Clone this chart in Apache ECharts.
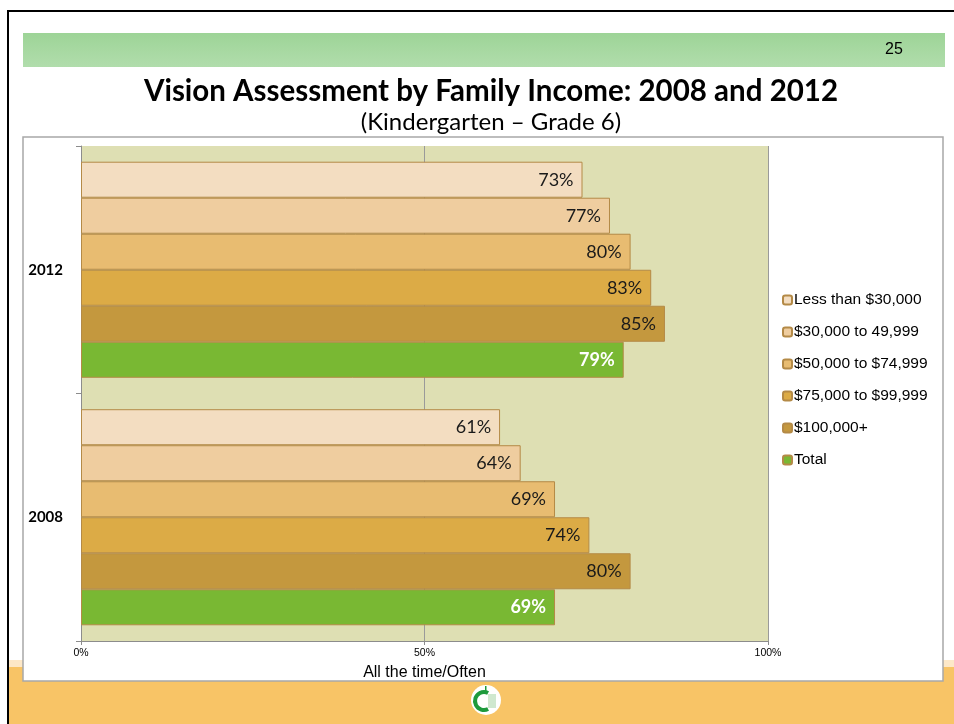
<!DOCTYPE html>
<html>
<head>
<meta charset="utf-8">
<script src="https://cdn.jsdelivr.net/npm/echarts@6/dist/echarts.min.js"></script>
<style>
  html, body { margin: 0; padding: 0; background: #fff; }
  #chart { width: 954px; height: 724px; }
</style>
</head>
<body>
<div id="chart"></div>
<script>
    // 图表数据
    var years = ['2008', '2012'];
    var seriesNames = ['Less than $30,000', '$30,000 to 49,999', '$50,000 to $74,999', '$75,000 to $99,999', '$100,000+', 'Total'];
    var lessThan30k = [61, 73];
    var from30kTo49k = [64, 77];
    var from50kTo74k = [69, 80];
    var from75kTo99k = [74, 83];
    var over100k = [80, 85];
    var totalAll = [69, 79];
    var xTicks = [0, 50, 100];

    var colors = ['#f3ddc1', '#efcd9f', '#e8bc71', '#dcab46', '#c4983e', '#79b833'];
    var values = [lessThan30k, from30kTo49k, from50kTo74k, from75kTo99k, over100k, totalAll];

    var chart = echarts.init(document.getElementById('chart'));

    var series = [];
    for (let i = 0; i < seriesNames.length; i++) {
        var isTotal = seriesNames[i] == 'Total';
        series.push({
            name: seriesNames[i],
            type: 'bar',
            data: values[i],
            barGap: '0%',
            barCategoryGap: '12.7%',
            itemStyle: {
                color: colors[i],
                borderColor: '#b48a47',
                borderWidth: 1
            },
            label: {
                show: true,
                position: 'insideRight',
                distance: 9,
                formatter: '{c}%',
                fontFamily: 'Lato',
                fontSize: 18,
                fontWeight: isTotal ? 'bold' : 'normal',
                color: isTotal ? '#ffffff' : '#1a1a1a'
            }
        });
    }

    var option = {
        animation: false,
        backgroundColor: '#ffffff',
        title: {
            text: 'Vision Assessment by Family Income: 2008 and 2012',
            subtext: '(Kindergarten \u2013 Grade 6)',
            left: 486,
            textAlign: 'center',
            top: 71,
            itemGap: 4,
            textStyle: {
                fontFamily: 'Lato',
                fontWeight: 'bold',
                fontSize: 29.5,
                color: '#000'
            },
            subtextStyle: {
                fontFamily: 'Lato',
                fontSize: 24,
                color: '#000'
            }
        },
        legend: {
            orient: 'vertical',
            left: 782,
            top: 292,
            padding: 0,
            itemWidth: 9,
            itemHeight: 9,
            itemGap: 16,
            data: seriesNames,
            textStyle: {
                fontFamily: 'Liberation Sans',
                fontSize: 15.5,
                color: '#000',
                padding: [0, 0, 0, -3]
            }
        },
        grid: {
            left: 81,
            top: 146,
            width: 687,
            height: 495,
            show: true,
            backgroundColor: '#dedfb3',
            borderWidth: 0
        },
        xAxis: {
            type: 'value',
            min: xTicks[0],
            max: xTicks[xTicks.length - 1],
            interval: xTicks[1] - xTicks[0],
            name: 'All the time/Often',
            nameLocation: 'middle',
            nameGap: 24,
            nameTextStyle: {
                fontFamily: 'Liberation Sans',
                fontSize: 16,
                color: '#000'
            },
            axisLine: { show: true, lineStyle: { color: '#8c8c8c' } },
            axisTick: { show: true, length: 4, lineStyle: { color: '#8c8c8c' } },
            axisLabel: {
                formatter: '{value}%',
                fontFamily: 'Liberation Sans',
                fontSize: 10.5,
                color: '#000',
                margin: 7
            },
            splitLine: { show: true, lineStyle: { color: '#9a9a9a', width: 1 } }
        },
        yAxis: {
            type: 'category',
            data: years,
            axisLine: { show: true, lineStyle: { color: '#8c8c8c' } },
            axisTick: { show: true, length: 5, lineStyle: { color: '#8c8c8c' } },
            axisLabel: {
                fontFamily: 'Lato',
                fontWeight: 'bold',
                fontSize: 15,
                color: '#000',
                margin: 18
            }
        },
        graphic: [
            // 黑色边框
            { type: 'rect', z: -10, shape: { x: 0, y: 0, width: 954, height: 724 }, style: { fill: '#ffffff' } },
            { type: 'rect', z: -9, shape: { x: 7, y: 10, width: 947, height: 2 }, style: { fill: '#000' } },
            { type: 'rect', z: -9, shape: { x: 7, y: 10, width: 2, height: 714 }, style: { fill: '#000' } },
            // 绿色横幅
            {
                type: 'rect', z: -9, shape: { x: 23, y: 33, width: 922, height: 34 },
                style: {
                    fill: new echarts.graphic.LinearGradient(0, 0, 0, 1, [
                        { offset: 0, color: '#9dd497' },
                        { offset: 1, color: '#b1ddac' }
                    ])
                }
            },
            { type: 'text', z: -8, left: 885, top: 42, style: { text: '25', font: '16px "Liberation Sans"', fill: '#000' } },
            // 底部橙色
            { type: 'rect', z: -9, shape: { x: 9, y: 660, width: 945, height: 8 }, style: { fill: '#fde8c8' } },
            { type: 'rect', z: -9, shape: { x: 9, y: 667, width: 945, height: 57 }, style: { fill: '#f8c466' } },
            // 图表框
            { type: 'rect', z: -8, shape: { x: 23, y: 137, width: 920, height: 544 }, style: { fill: '#ffffff', stroke: '#a8a8a8', lineWidth: 1.5 } },
            // logo
            { type: 'circle', z: -7, shape: { cx: 486, cy: 700, r: 15 }, style: { fill: '#ffffff' } },
            { type: 'arc', z: -6, shape: { cx: 484, cy: 701, r: 9, startAngle: Math.PI * 0.35, endAngle: Math.PI * 1.65 }, style: { stroke: '#1e9a3c', lineWidth: 4, fill: null } },
            { type: 'rect', z: -6, shape: { x: 488, y: 694, width: 8, height: 14 }, style: { fill: '#cfe8cf' } },
            { type: 'rect', z: -6, shape: { x: 485, y: 686, width: 1.5, height: 6 }, style: { fill: '#1e9a3c' } }
        ],
        series: series
    };

    chart.setOption(option);
</script>
</body>
</html>
